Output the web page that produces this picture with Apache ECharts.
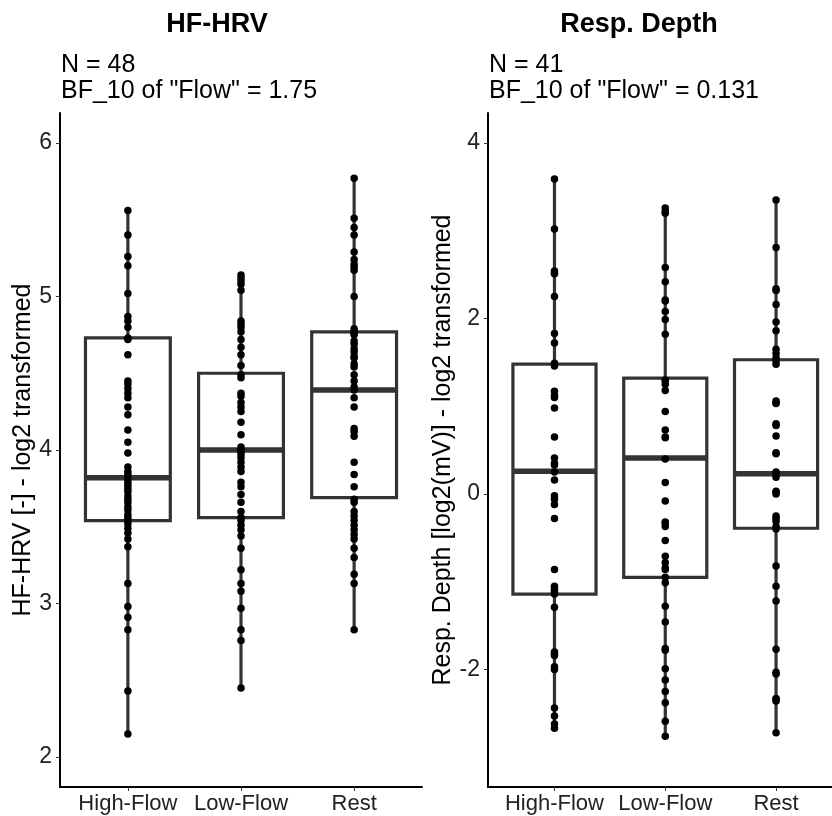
<!DOCTYPE html>
<html>
<head>
<meta charset="utf-8">
<script src="https://cdn.jsdelivr.net/npm/echarts@6/dist/echarts.min.js"></script>
<style>
  html, body { margin: 0; padding: 0; background: #fff; }
  #chart { width: 832px; height: 816px; }
</style>
</head>
<body>
<div id="chart"></div>
<script>
// ---------- data ----------
const categories = ['High-Flow', 'Low-Flow', 'Rest'];

// HF-HRV panel: box statistics [min, Q1, median, Q3, max]
const hrvStats = [
  [2.15, 3.54, 3.82, 4.73, 5.56],
  [2.45, 3.56, 4.00, 4.50, 5.14],
  [2.83, 3.69, 4.39, 4.77, 5.77]
];
// HF-HRV raw points
const hrvHigh = [5.56, 5.40, 5.26, 5.20, 5.02, 4.87, 4.84, 4.80, 4.73, 4.72,
  4.62, 4.45, 4.43, 4.40, 4.37, 4.34, 4.28, 4.23, 4.13, 4.05,
  3.98, 3.89, 3.86, 3.84, 3.81, 3.79, 3.77, 3.75, 3.73, 3.70,
  3.68, 3.66, 3.63, 3.61, 3.58, 3.56, 3.54, 3.52, 3.49, 3.46,
  3.42, 3.37, 3.13, 2.98, 2.91, 2.83, 2.43, 2.15];
const hrvLow = [5.14, 5.12, 5.10, 5.08, 5.04, 4.84, 4.82, 4.80, 4.77, 4.72,
  4.67, 4.62, 4.55, 4.49, 4.47, 4.37, 4.35, 4.31, 4.28, 4.25,
  4.18, 4.10, 4.02, 4.00, 3.99, 3.97, 3.95, 3.92, 3.89, 3.86,
  3.79, 3.76, 3.71, 3.66, 3.60, 3.56, 3.54, 3.51, 3.48, 3.44,
  3.36, 3.22, 3.13, 3.08, 2.97, 2.83, 2.76, 2.45];
const hrvRest = [5.77, 5.51, 5.45, 5.40, 5.29, 5.24, 5.21, 5.19, 5.17, 5.00,
  4.79, 4.77, 4.76, 4.75, 4.71, 4.69, 4.66, 4.64, 4.61, 4.60,
  4.56, 4.54, 4.49, 4.45, 4.41, 4.39, 4.34, 4.28, 4.14, 4.12,
  4.09, 3.92, 3.84, 3.76, 3.68, 3.66, 3.60, 3.57, 3.54, 3.51,
  3.48, 3.45, 3.42, 3.36, 3.30, 3.19, 3.13, 2.83];

// Resp. Depth panel: box statistics [min, Q1, median, Q3, max]
const respStats = [
  [-2.67, -1.14, 0.26, 1.48, 3.59],
  [-2.76, -0.95, 0.41, 1.32, 3.26],
  [-2.72, -0.39, 0.23, 1.53, 3.35]
];
const respHigh = [3.59, 3.02, 2.54, 2.52, 2.51, 2.25, 1.83, 1.72, 1.49, 1.48,
  1.46, 1.17, 1.12, 1.10, 0.98, 0.65, 0.41, 0.35, 0.33, 0.25,
  0.16, -0.02, -0.06, -0.12, -0.28, -0.86, -1.05, -1.08, -1.10, -1.12,
  -1.14, -1.29, -1.80, -1.82, -1.84, -1.97, -2.00, -2.44, -2.53, -2.62, -2.67];
const respLow = [3.26, 3.22, 3.20, 2.58, 2.42, 2.21, 2.20, 2.08, 1.99, 1.82,
  1.30, 1.29, 1.25, 1.18, 0.94, 0.73, 0.65, 0.64, 0.40, 0.13,
  -0.08, -0.32, -0.33, -0.37, -0.53, -0.71, -0.78, -0.84, -0.86, -0.95,
  -1.01, -1.28, -1.46, -1.76, -1.78, -1.99, -2.12, -2.25, -2.38, -2.59, -2.76];
const respRest = [3.35, 2.81, 2.34, 2.32, 2.16, 1.96, 1.86, 1.65, 1.60, 1.55,
  1.52, 1.48, 1.06, 1.04, 1.03, 0.80, 0.78, 0.66, 0.47, 0.46,
  0.25, 0.23, 0.19, 0.03, 0.02, 0.00, -0.25, -0.28, -0.31, -0.37,
  -0.40, -0.82, -1.05, -1.22, -1.77, -2.03, -2.05, -2.33, -2.34, -2.36, -2.72];

const hrvTicks = [2, 3, 4, 5, 6];
const respTicks = [-2, 0, 2, 4];
const xTicks = [1, 2, 3];

// ---------- helpers ----------
const INK = '#333333';
function boxData(stats) {
  return stats.map((s, i) => [i + 1].concat(s));
}
function pointData(groups) {
  const out = [];
  groups.forEach((g, i) => g.forEach(v => out.push([i + 1, v])));
  return out;
}
function renderBox(params, api) {
  const x = api.value(0);
  const lo = api.coord([x, api.value(1)]);
  const q1 = api.coord([x, api.value(2)]);
  const md = api.coord([x, api.value(3)]);
  const q3 = api.coord([x, api.value(4)]);
  const hi = api.coord([x, api.value(5)]);
  const w = api.size([0.75, 0])[0];
  const line = { stroke: INK, lineWidth: 3.2 };
  return {
    type: 'group',
    children: [
      { type: 'line', shape: { x1: lo[0], y1: lo[1], x2: q1[0], y2: q1[1] }, style: line },
      { type: 'line', shape: { x1: q3[0], y1: q3[1], x2: hi[0], y2: hi[1] }, style: line },
      { type: 'rect', shape: { x: q3[0] - w / 2, y: q3[1], width: w, height: q1[1] - q3[1] },
        style: { fill: '#ffffff', stroke: INK, lineWidth: 3.2 } },
      { type: 'line', shape: { x1: md[0] - w / 2, y1: md[1], x2: md[0] + w / 2, y2: md[1] },
        style: { stroke: INK, lineWidth: 5.5 } }
    ]
  };
}

const FONT = '"Liberation Sans", Arial, sans-serif';
function xAxisOpt(gridIndex, max) {
  return {
    type: 'value', gridIndex: gridIndex, min: 0.4, max: max,
    axisLine: { show: true, onZero: false, lineStyle: { color: '#000', width: 2 } },
    splitLine: { show: false },
    axisTick: { show: true, customValues: xTicks, length: 4, lineStyle: { color: INK, width: 1 } },
    axisLabel: { show: true, customValues: xTicks, margin: 6, fontSize: 22, color: '#222', fontFamily: FONT,
      formatter: v => categories[Math.round(v) - 1] }
  };
}
function yAxisOpt(gridIndex, min, max, ticks, name, gap) {
  return {
    type: 'value', gridIndex: gridIndex, min: min, max: max,
    axisLine: { show: true, onZero: false, lineStyle: { color: '#000', width: 2 } },
    splitLine: { show: false },
    axisTick: { show: true, customValues: ticks, length: 4, lineStyle: { color: INK, width: 1 } },
    axisLabel: { show: true, customValues: ticks, margin: 8, fontSize: 23, color: '#222', fontFamily: FONT },
    name: name, nameLocation: 'middle', nameGap: gap,
    nameTextStyle: { fontSize: 25, color: '#000', fontFamily: FONT }
  };
}

const chart = echarts.init(document.getElementById('chart'), null, { renderer: 'canvas' });
chart.setOption({
  backgroundColor: '#ffffff',
  animation: false,
  title: [
    { text: 'HF-HRV', left: 217, top: 11, textAlign: 'center', padding: 0,
      textStyle: { fontSize: 27, fontWeight: 'bold', color: '#000', fontFamily: FONT } },
    { text: 'N = 48\nBF_10 of "Flow" = 1.75', left: 61, top: 52, padding: 0,
      textStyle: { fontSize: 25, fontWeight: 'normal', lineHeight: 26, color: '#000', fontFamily: FONT } },
    { text: 'Resp. Depth', left: 639, top: 11, textAlign: 'center', padding: 0,
      textStyle: { fontSize: 27, fontWeight: 'bold', color: '#000', fontFamily: FONT } },
    { text: 'N = 41\nBF_10 of "Flow" = 0.131', left: 489, top: 52, padding: 0,
      textStyle: { fontSize: 25, fontWeight: 'normal', lineHeight: 26, color: '#000', fontFamily: FONT } }
  ],
  grid: [
    { left: 60, top: 113, width: 362, height: 674 },
    { left: 488, top: 113, width: 344, height: 674 }
  ],
  xAxis: [ xAxisOpt(0, 3.6), xAxisOpt(1, 3.505) ],
  yAxis: [
    yAxisOpt(0, 1.805, 6.195, hrvTicks, 'HF-HRV [-] - log2 transformed', 20),
    yAxisOpt(1, -3.339, 4.342, respTicks, 'Resp. Depth [log2(mV)] - log2 transformed', 30)
  ],
  series: [
    { type: 'custom', xAxisIndex: 0, yAxisIndex: 0, renderItem: renderBox,
      encode: { x: 0, y: [1, 2, 3, 4, 5] }, data: boxData(hrvStats), z: 2, silent: true },
    { type: 'custom', xAxisIndex: 1, yAxisIndex: 1, renderItem: renderBox,
      encode: { x: 0, y: [1, 2, 3, 4, 5] }, data: boxData(respStats), z: 2, silent: true },
    { type: 'scatter', xAxisIndex: 0, yAxisIndex: 0, symbolSize: 7.5,
      itemStyle: { color: '#000', opacity: 1 }, data: pointData([hrvHigh, hrvLow, hrvRest]), z: 5 },
    { type: 'scatter', xAxisIndex: 1, yAxisIndex: 1, symbolSize: 7.5,
      itemStyle: { color: '#000', opacity: 1 }, data: pointData([respHigh, respLow, respRest]), z: 5 }
  ]
});
</script>
</body>
</html>
